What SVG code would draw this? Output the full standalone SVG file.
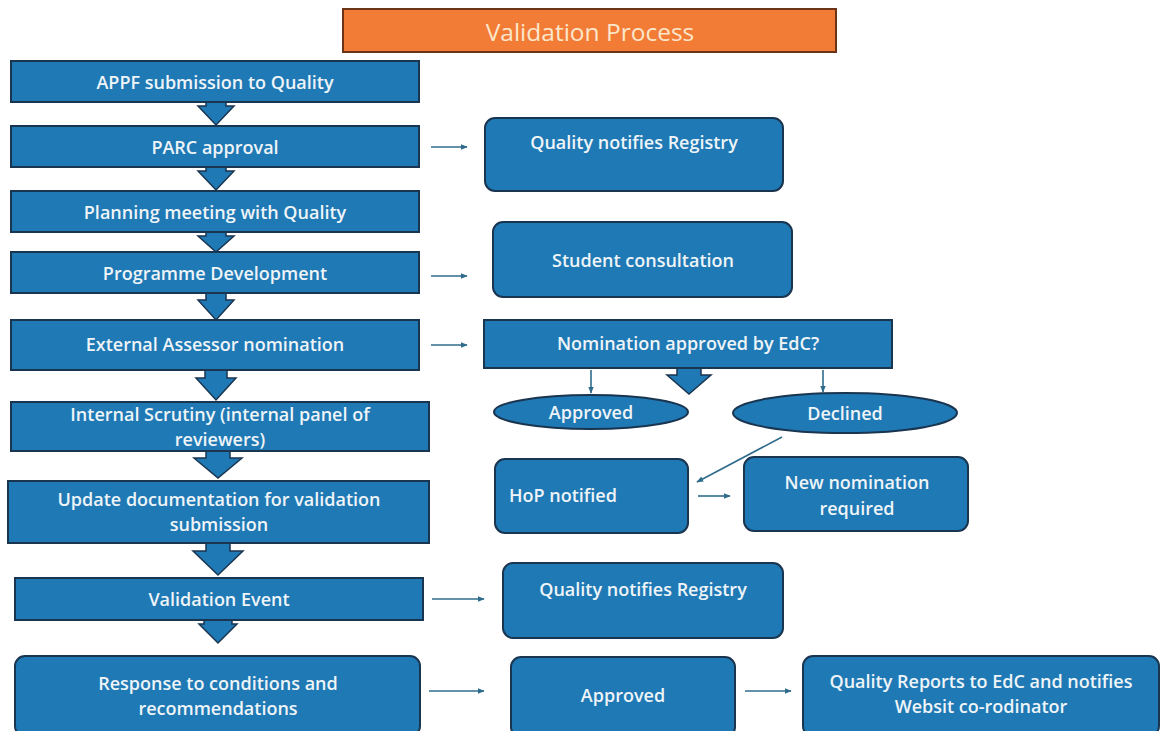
<svg xmlns="http://www.w3.org/2000/svg" width="1164" height="731" viewBox="0 0 1164 731">
<defs>
<style>
.box{fill:#1F79B4;stroke:#1A3550;stroke-width:2}
.blk{fill:#1F79B4;stroke:#1A3550;stroke-width:1.5;stroke-linejoin:miter}
.t{font-family:"Open Sans","Liberation Sans",sans-serif;font-size:18px;font-weight:600;fill:#EEF4F8;text-anchor:middle;dominant-baseline:central}
.ttl{font-family:"Open Sans","Liberation Sans",sans-serif;font-size:24.5px;fill:#FCE6CC;text-anchor:middle;dominant-baseline:central}
.ln{stroke:#2F6C8C;stroke-width:1.6;fill:none}
</style>
<marker id="ah" viewBox="0 0 10 10" refX="9" refY="5" markerWidth="7" markerHeight="7" markerUnits="userSpaceOnUse" orient="auto">
<path d="M0,1 L10,5 L0,9 Z" fill="#2F6C8C"/>
</marker>
</defs>
<rect width="1164" height="731" fill="#FFFFFF"/>

<g id="title">
<rect x="343" y="9" width="493" height="43" fill="#F27C36" stroke="#6B3416" stroke-width="2"/>
<text class="ttl" x="590" y="31">Validation Process</text>
</g>

<g id="connectors">
<path class="blk" d="M206,102 L226,102 L226,106 L234,106 L216,125 L198,106 L206,106 Z"/>
<path class="blk" d="M206,167 L226,167 L226,171 L234,171 L216,190 L198,171 L206,171 Z"/>
<path class="blk" d="M206,232 L226,232 L226,236 L234,236 L216,252 L198,236 L206,236 Z"/>
<path class="blk" d="M206,293 L226,293 L226,300 L234,300 L216,320 L198,300 L206,300 Z"/>
<path class="blk" d="M205,370 L227,370 L227,378 L236,378 L216,400 L196,378 L205,378 Z"/>
<path class="blk" d="M206,451 L230,451 L230,458 L242,458 L218,478 L194,458 L206,458 Z"/>
<path class="blk" d="M206,543 L230,543 L230,551 L243,551 L218,575 L193,551 L206,551 Z"/>
<path class="blk" d="M204,620 L232,620 L232,624 L237,624 L218,643 L199,624 L204,624 Z"/>
<path class="blk" d="M677,368 L701,368 L701,375 L711,375 L689,394 L667,375 L677,375 Z"/>
<line class="ln" x1="431" y1="147" x2="467" y2="147" marker-end="url(#ah)"/>
<line class="ln" x1="431" y1="276" x2="467" y2="276" marker-end="url(#ah)"/>
<line class="ln" x1="431" y1="345" x2="467" y2="345" marker-end="url(#ah)"/>
<line class="ln" x1="591" y1="370" x2="591" y2="393" marker-end="url(#ah)"/>
<line class="ln" x1="823" y1="370" x2="823" y2="392" marker-end="url(#ah)"/>
<line class="ln" x1="782" y1="437" x2="697" y2="482" marker-end="url(#ah)"/>
<line class="ln" x1="698" y1="496" x2="730" y2="496" marker-end="url(#ah)"/>
<line class="ln" x1="432" y1="599" x2="484" y2="599" marker-end="url(#ah)"/>
<line class="ln" x1="429" y1="691" x2="484" y2="691" marker-end="url(#ah)"/>
<line class="ln" x1="745" y1="691" x2="791" y2="691" marker-end="url(#ah)"/>
</g>

<g id="n-appf">
<rect class="box" x="11" y="61" width="408" height="41"/>
<text class="t" x="215" y="82">APPF submission to Quality</text>
</g>
<g id="n-parc">
<rect class="box" x="11" y="126" width="408" height="41"/>
<text class="t" x="215" y="147">PARC approval</text>
</g>
<g id="n-planning">
<rect class="box" x="11" y="191" width="408" height="41"/>
<text class="t" x="215" y="212">Planning meeting  with Quality</text>
</g>
<g id="n-progdev">
<rect class="box" x="11" y="252" width="408" height="41"/>
<text class="t" x="215" y="273">Programme Development</text>
</g>
<g id="n-external">
<rect class="box" x="11" y="320" width="408" height="50"/>
<text class="t" x="215" y="344">External Assessor nomination</text>
</g>
<g id="n-internal">
<rect class="box" x="11" y="402" width="418" height="49"/>
<text class="t" x="220" y="414">Internal Scrutiny  (internal panel of</text>
<text class="t" x="220" y="439">reviewers)</text>
</g>
<g id="n-update">
<rect class="box" x="8" y="481" width="421" height="62"/>
<text class="t" x="219" y="499">Update documentation  for validation</text>
<text class="t" x="219" y="524">submission</text>
</g>
<g id="n-valevent">
<rect class="box" x="15" y="578" width="408" height="42"/>
<text class="t" x="219" y="599">Validation Event</text>
</g>
<g id="n-response">
<rect class="box" x="15" y="656" width="405" height="80" rx="10"/>
<text class="t" x="218" y="683">Response to conditions and</text>
<text class="t" x="218" y="708">recommendations</text>
</g>

<g id="n-qnr1">
<rect class="box" x="485" y="118" width="298" height="73" rx="10"/>
<text class="t" x="634" y="142">Quality notifies Registry</text>
</g>
<g id="n-student">
<rect class="box" x="493" y="222" width="299" height="75" rx="10"/>
<text class="t" x="643" y="260">Student consultation</text>
</g>
<g id="n-nomination">
<rect class="box" x="484" y="320" width="408" height="48"/>
<text class="t" x="688" y="343">Nomination approved by EdC?</text>
</g>
<g id="n-approved1">
<ellipse class="box" cx="591" cy="412" rx="97" ry="17"/>
<text class="t" x="591" y="412">Approved</text>
</g>
<g id="n-declined">
<ellipse class="box" cx="845" cy="413" rx="112" ry="20"/>
<text class="t" x="845" y="413">Declined</text>
</g>
<g id="n-hop">
<rect class="box" x="495" y="459" width="193" height="74" rx="10"/>
<text class="t" x="509" y="495" style="text-anchor:start">HoP notified</text>
</g>
<g id="n-newnom">
<rect class="box" x="744" y="457" width="224" height="74" rx="10"/>
<text class="t" x="857" y="482">New nomination</text>
<text class="t" x="857" y="508">required</text>
</g>
<g id="n-qnr2">
<rect class="box" x="503" y="563" width="280" height="75" rx="10"/>
<text class="t" x="643" y="589">Quality notifies Registry</text>
</g>
<g id="n-approved2">
<rect class="box" x="511" y="657" width="224" height="80" rx="10"/>
<text class="t" x="623" y="695">Approved</text>
</g>
<g id="n-reports">
<rect class="box" x="803" y="656" width="356" height="80" rx="10"/>
<text class="t" x="981" y="681">Quality Reports to EdC and notifies</text>
<text class="t" x="981" y="706">Websit co-rodinator</text>
</g>
</svg>
